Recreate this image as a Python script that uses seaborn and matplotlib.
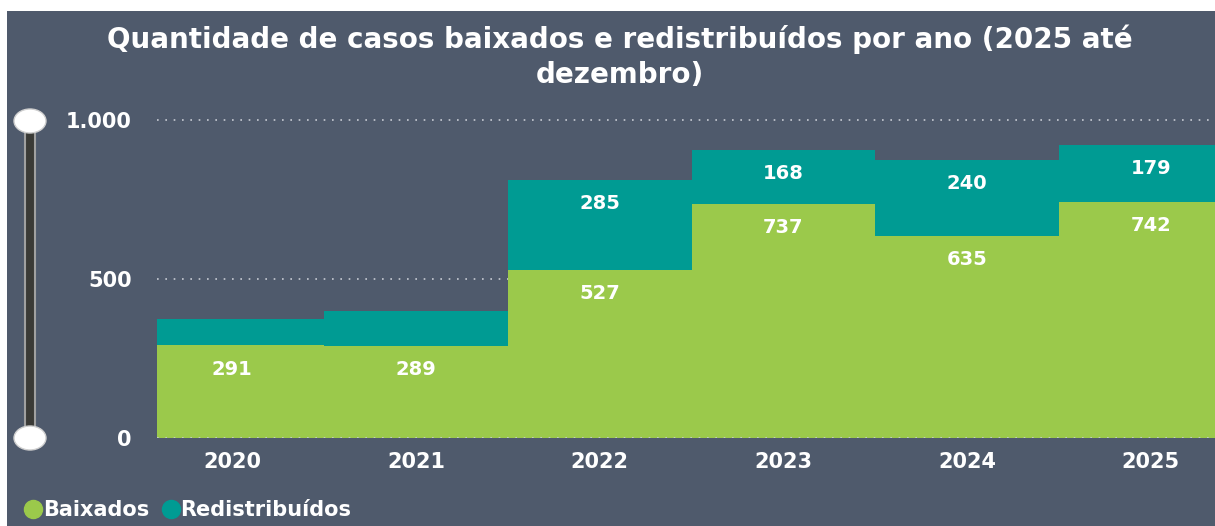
import numpy as np
import pandas as pd
import seaborn as sns
from matplotlib import pyplot as plt
from matplotlib.patches import Rectangle, Ellipse
from matplotlib.lines import Line2D

# data
anos = ['2020', '2021', '2022', '2023', '2024', '2025']
baixados = [291, 289, 527, 737, 635, 742]
redistribuidos = [83, 110, 285, 168, 240, 179]
rotulos_redis = ['', '', '285', '168', '240', '179']
y_ticks = [0, 500, 1000]
y_tick_labels = ['0', '500', '1.000']

BG = '#4f5a6c'
VERDE = '#9bc94b'
TEAL = '#009b93'

df = pd.DataFrame({'ano': anos, 'baixados': baixados, 'redistribuidos': redistribuidos})
df['total'] = df.baixados + df.redistribuidos

sns.set_style('white')
plt.rcParams['font.family'] = ['DejaVu Sans']

fig = plt.figure(figsize=(12.15, 5.26), dpi=100)
fig.patch.set_facecolor('white')
fig.patches.append(Rectangle((7 / 1215, 0), 1, 1 - 11 / 526, transform=fig.transFigure,
                             facecolor=BG, edgecolor='none', zorder=-10))

ax = fig.add_axes([157 / 1215, 1 - 438 / 526, 1 - 157 / 1215, 328 / 526])
ax.set_facecolor(BG)

sns.barplot(data=df, x='ano', y='total', color=TEAL, width=1, saturation=1, ax=ax, zorder=2)
sns.barplot(data=df, x='ano', y='baixados', color=VERDE, width=1, saturation=1, ax=ax, zorder=3)
for p in ax.patches:
    p.set_edgecolor('none')

# value labels, just under the top of each segment
for i, row in df.iterrows():
    ax.annotate(str(row.baixados), (i, row.baixados), xytext=(0, -17), textcoords='offset points',
                ha='center', va='center', color='white', fontsize=14, fontweight='bold', zorder=5)
    if rotulos_redis[i]:
        ax.annotate(rotulos_redis[i], (i, row.total), xytext=(0, -17), textcoords='offset points',
                    ha='center', va='center', color='white', fontsize=14, fontweight='bold', zorder=5)

ax.set_xlim(-0.41, 5.35)
ax.set_ylim(0, 1031)
ax.set_yticks(y_ticks)
ax.set_yticklabels(y_tick_labels)
for y in y_ticks:
    ax.axhline(y, color='#c8ccd4', lw=1.2, ls=(0, (1, 4)), zorder=1 if y else 6)
for s in ax.spines.values():
    s.set_visible(False)
ax.tick_params(length=0, labelcolor='white', labelsize=15)
ax.tick_params(axis='y', pad=18)
ax.tick_params(axis='x', pad=10)
for t in ax.get_xticklabels() + ax.get_yticklabels():
    t.set_fontweight('bold')
ax.set_xlabel('')
ax.set_ylabel('')

fig.text(620 / 1215, 1 - 57 / 526,
         'Quantidade de casos baixados e redistribuídos por ano (2025 até\ndezembro)',
         ha='center', va='center', color='white', fontsize=20, fontweight='bold', linespacing=1.3)

# range slider on the left
fig.patches.append(Rectangle((25 / 1215, 1 - 438 / 526), 10 / 1215, 317 / 526, transform=fig.transFigure,
                             facecolor='#3a3a36', edgecolor='#a0a0a0', lw=1.5, zorder=5))
for yy in (121, 438):
    fig.patches.append(Ellipse((30 / 1215, 1 - yy / 526), 32 / 1215, 24 / 526, transform=fig.transFigure,
                               facecolor='white', edgecolor='#cfcfcf', lw=1, zorder=6))

handles = [Line2D([], [], ls='none', marker='o', markersize=13, color=VERDE),
           Line2D([], [], ls='none', marker='o', markersize=13, color=TEAL)]
leg = fig.legend(handles, ['Baixados', 'Redistribuídos'], loc='lower left', bbox_to_anchor=(0.006, -0.024),
                 ncol=2, frameon=False, handlelength=0.7, handletextpad=0.1, columnspacing=0.7,
                 prop={'size': 15, 'weight': 'bold'})
for t in leg.get_texts():
    t.set_color('white')

plt.savefig('out.png', dpi=100, facecolor=fig.get_facecolor())
